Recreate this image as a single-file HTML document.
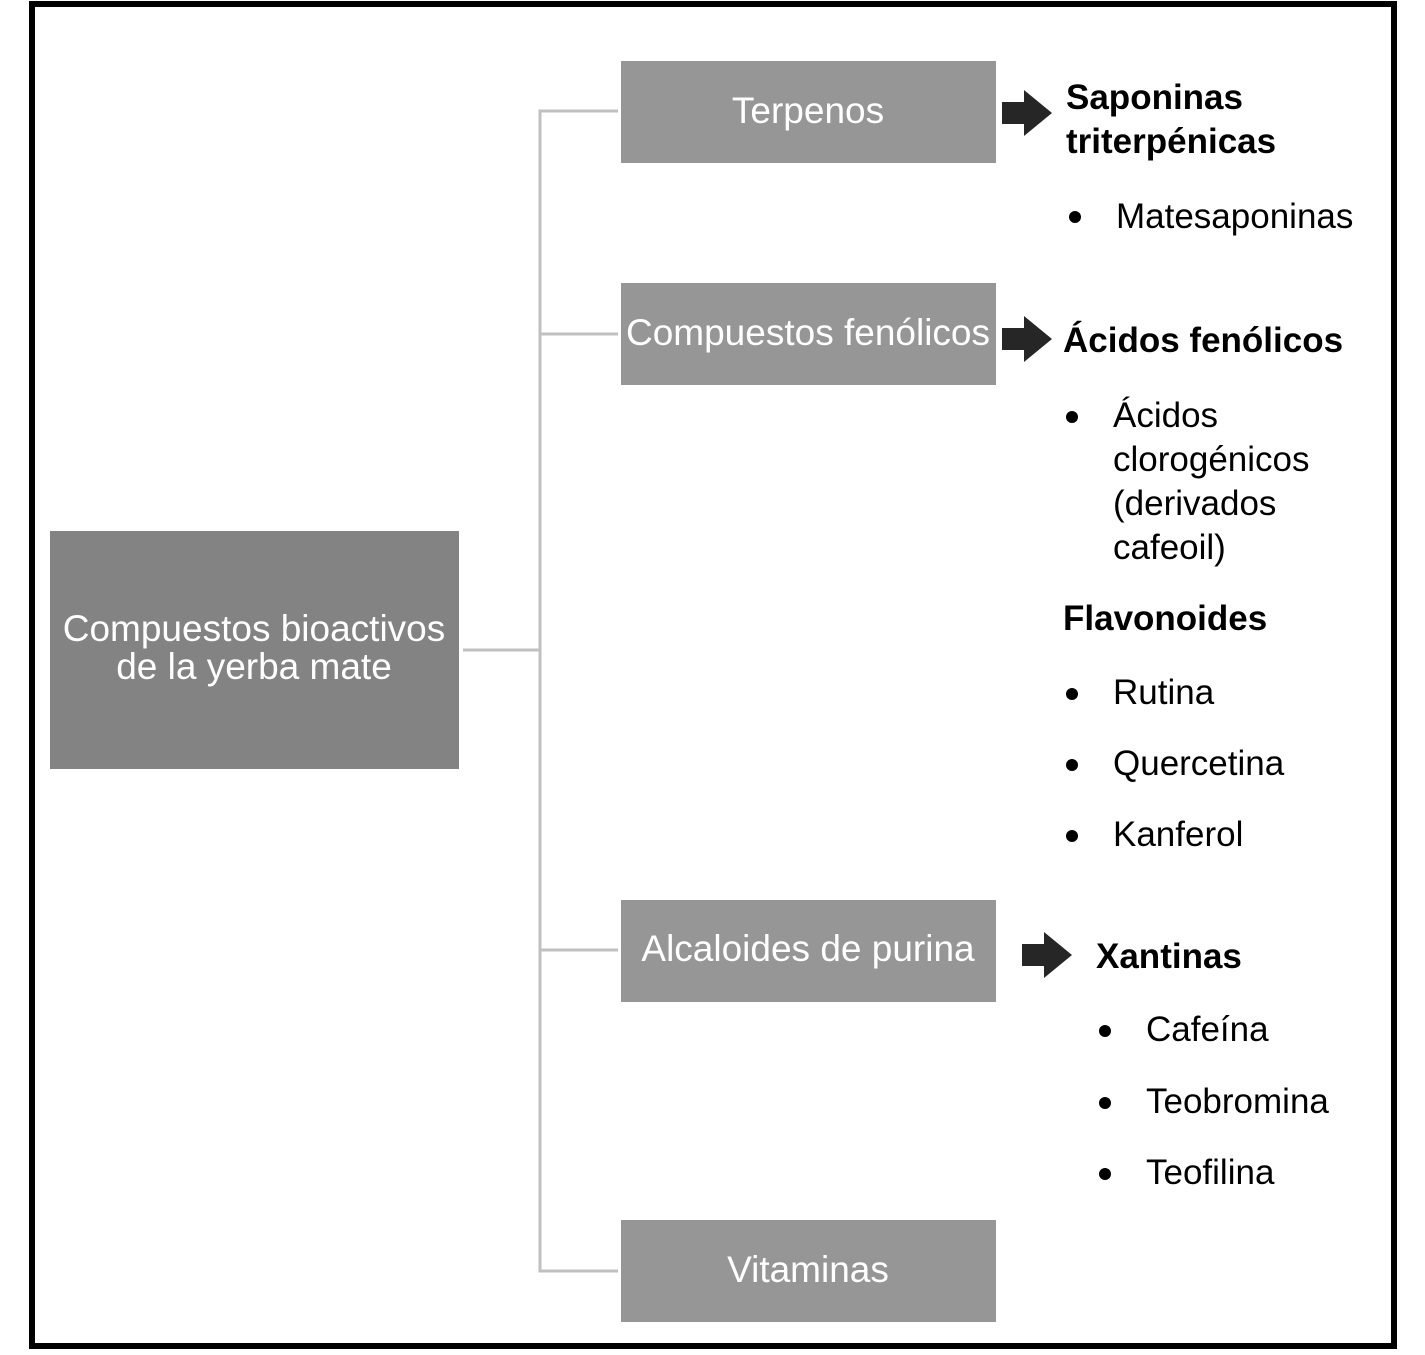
<!DOCTYPE html>
<html><head><meta charset="utf-8"><style>
html,body{margin:0;padding:0;background:#fff;}
svg text{font-family:"Liberation Sans",Arial,sans-serif;}
</style></head><body>
<svg width="1425" height="1350" viewBox="0 0 1425 1350" xmlns="http://www.w3.org/2000/svg">
<rect x="32" y="4" width="1362" height="1342" fill="none" stroke="#000" stroke-width="6"/>
<g stroke="#c0c0c0" stroke-width="3" fill="none">
<path d="M463 650H540M618 111H540V1271H618M540 334H618M540 950H618"/>
</g>
<rect x="50" y="531" width="409" height="238" fill="#838383"/>
<g fill="#969696">
<rect x="621" y="61" width="375" height="102"/>
<rect x="621" y="283" width="375" height="102"/>
<rect x="621" y="900" width="375" height="102"/>
<rect x="621" y="1220" width="375" height="102"/>
</g>
<g fill="#fff" font-size="37" text-anchor="middle">
<text x="254" y="641">Compuestos bioactivos</text>
<text x="254" y="679">de la yerba mate</text>
<text x="808" y="123">Terpenos</text>
<text x="808" y="345">Compuestos fenólicos</text>
<text x="808" y="961">Alcaloides de purina</text>
<text x="808" y="1282">Vitaminas</text>
</g>
<g fill="#262626">
<path d="M1002 102h22v-12l28 23-28 23v-12h-22z"/>
<path d="M1002 328h22v-12l28 23-28 23v-12h-22z"/>
<path d="M1022 944h22v-12l28 23-28 23v-12h-22z"/>
</g>
<g fill="#000" font-size="35">
<text x="1066" y="109" font-weight="bold">Saponinas</text>
<text x="1066" y="153" font-weight="bold">triterpénicas</text>
<text x="1116" y="228">Matesaponinas</text>
<text x="1063" y="352" font-weight="bold">Ácidos fenólicos</text>
<text x="1113" y="427">Ácidos</text>
<text x="1113" y="471">clorogénicos</text>
<text x="1113" y="515">(derivados</text>
<text x="1113" y="559">cafeoil)</text>
<text x="1063" y="630" font-weight="bold">Flavonoides</text>
<text x="1113" y="704">Rutina</text>
<text x="1113" y="775">Quercetina</text>
<text x="1113" y="846">Kanferol</text>
<text x="1096" y="968" font-weight="bold">Xantinas</text>
<text x="1146" y="1041">Cafeína</text>
<text x="1146" y="1113">Teobromina</text>
<text x="1146" y="1184">Teofilina</text>
</g>
<g fill="#000">
<circle cx="1075" cy="217" r="6"/>
<circle cx="1072" cy="417" r="6"/>
<circle cx="1072" cy="694" r="6"/>
<circle cx="1072" cy="765" r="6"/>
<circle cx="1072" cy="836" r="6"/>
<circle cx="1105" cy="1031" r="6"/>
<circle cx="1105" cy="1103" r="6"/>
<circle cx="1105" cy="1174" r="6"/>
</g>
</svg>
</body></html>
